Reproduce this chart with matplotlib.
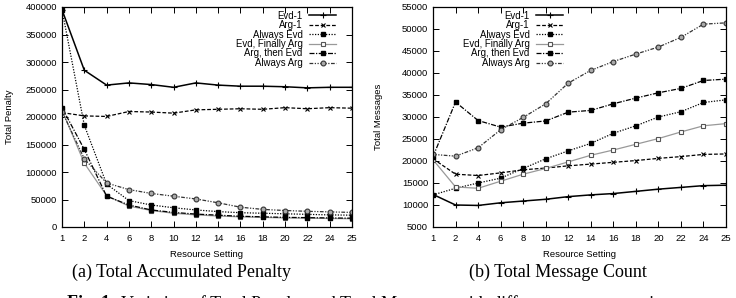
import matplotlib
matplotlib.use("Agg")
import matplotlib.pyplot as plt
import numpy as np

settings = [1, 2, 4, 6, 8, 10, 12, 14, 16, 18, 20, 22, 24, 25]
series_names = ["Evd-1", "Arg-1", "Always Evd", "Evd, Finally Arg",
                "Arg, then Evd", "Always Arg"]

# total accumulated penalty
evd1_pen = [395000, 285000, 258000, 262000, 259000, 254000, 262000, 258000,
            256000, 256000, 255000, 253000, 254000, 254000]
arg1_pen = [208000, 202000, 201000, 210000, 209000, 207000, 213000, 214000,
            215000, 214000, 217000, 215000, 217000, 216000]
always_evd_pen = [395000, 185000, 78000, 48000, 40000, 35000, 31000, 28000,
                  26000, 25000, 24000, 23000, 22000, 21500]
evd_fin_arg_pen = [213000, 116000, 57000, 38000, 30000, 25000, 22000, 20000,
                   18500, 17500, 16500, 16000, 15500, 15000]
arg_then_evd_pen = [217000, 141000, 56000, 40000, 31000, 26500, 23500, 21500,
                    19500, 18500, 17500, 17000, 16500, 16000]
always_arg_pen = [210000, 124000, 80000, 68000, 61000, 56000, 51000, 44000,
                  36000, 32000, 30000, 28500, 27500, 26500]

# total message count
evd1_msg = [12400, 10000, 9900, 10500, 10900, 11300, 11900, 12300, 12600,
            13100, 13600, 14000, 14400, 14500]
arg1_msg = [20500, 17000, 16700, 17300, 18000, 18400, 18900, 19300, 19700,
            20100, 20600, 21000, 21500, 21600]
always_evd_msg = [12300, 13800, 15000, 16100, 18300, 20500, 22300, 24000,
                  26300, 28000, 30000, 31200, 33300, 33900]
evd_fin_arg_msg = [20300, 14100, 13800, 15400, 17000, 18300, 19800, 21300,
                   22500, 23800, 25100, 26600, 28000, 28500]
arg_then_evd_msg = [21000, 33400, 29200, 27700, 28600, 29100, 31100, 31500,
                    33000, 34300, 35500, 36500, 38300, 38600]
always_arg_msg = [21500, 21100, 23000, 27100, 29900, 33000, 37700, 40600,
                  42600, 44300, 45900, 48100, 51100, 51400]

# gnuplot-ish monochrome styles
styles = [
    dict(color="black", ls="-", lw=1.1, marker="+", ms=4, mew=0.8),
    dict(color="black", ls=(0, (3, 1.5)), lw=0.9, marker="x", ms=3, mew=0.8),
    dict(color="black", ls=(0, (1, 1.2)), lw=0.9, marker="s", ms=2.6,
         mfc="black", mec="black"),
    dict(color="#999999", ls="-", lw=0.9, marker="s", ms=3.5,
         mfc="white", mec="#555555", mew=0.8),
    dict(color="black", ls=(0, (4, 1.2, 1, 1.2)), lw=0.9, marker="s", ms=2.6,
         mfc="black", mec="black"),
    dict(color="#333333", ls=(0, (3, 1.2, 1, 1.2, 1, 1.2)), lw=0.9,
         marker="o", ms=3.5, mfc="#aaaaaa", mec="#333333", mew=0.8),
]

plt.rcParams["font.family"] = ["Liberation Sans", "DejaVu Sans"]

fig = plt.figure(figsize=(7.36, 2.98), dpi=100)
ax1 = fig.add_axes([62 / 736, 1 - 227 / 298, 290 / 736, 220 / 298])
ax2 = fig.add_axes([433 / 736, 1 - 227 / 298, 293 / 736, 220 / 298])

pos = np.arange(len(settings))


def draw(ax, data, yticks, ylabel, ylab_x, legend_anchor):
    for vals, name, st in zip(data, series_names, styles):
        ax.plot(pos, vals, label=name, **st)
    ax.set_xlim(pos[0], pos[-1])
    ax.set_xticks(pos)
    ax.set_xticklabels([str(s) for s in settings])
    ax.set_yticks(yticks)
    ax.set_ylim(yticks[0], yticks[-1])
    ax.tick_params(direction="in", length=4, width=0.7, labelsize=6.8,
                   top=True, right=True)
    ax.tick_params(axis="x", pad=5)
    for sp in ax.spines.values():
        sp.set_linewidth(0.9)
    ax.set_xlabel("Resource Setting", fontsize=6.8)
    ax.xaxis.set_label_coords(0.5, -0.105)
    ax.set_ylabel(ylabel, fontsize=6.8)
    ax.yaxis.set_label_coords(ylab_x, 0.5)
    ax.legend(loc="upper right", bbox_to_anchor=legend_anchor,
              markerfirst=False, frameon=False, fontsize=6.9,
              handlelength=2.8, handletextpad=0.7, labelspacing=-0.06,
              borderpad=0, numpoints=1)


draw(ax1, [evd1_pen, arg1_pen, always_evd_pen, evd_fin_arg_pen,
           arg_then_evd_pen, always_arg_pen],
     list(range(0, 400001, 50000)), "Total Penalty", -0.165,
     ((341 - 62) / 290, 1 + 1 / 220))
draw(ax2, [evd1_msg, arg1_msg, always_evd_msg, evd_fin_arg_msg,
           arg_then_evd_msg, always_arg_msg],
     list(range(5000, 55001, 5000)), "Total Messages", -0.17,
     ((568 - 433) / 293, 1 + 1 / 220))

cap = dict(fontsize=13, family=["Liberation Serif", "DejaVu Serif"],
           ha="center", va="center")
fig.text(181 / 736, 1 - 272 / 298, "(a) Total Accumulated Penalty", **cap)
fig.text(558 / 736, 1 - 272 / 298, "(b) Total Message Count", **cap)

# figure caption, cut off by the bottom edge as in the source
fig.canvas.draw()
r = fig.canvas.get_renderer()
t = fig.text(67 / 736, 1 - 295 / 298, "Fig. 1:", fontsize=13,
             family=["Liberation Serif", "DejaVu Serif"], weight="bold",
             va="top", ha="left")
bb = t.get_window_extent(renderer=r)
fig.text((bb.x1 + 5) / 736, 1 - 295 / 298,
         "Variation of Total Penalty and Total Messages with different resource settings",
         fontsize=13, family=["Liberation Serif", "DejaVu Serif"],
         va="top", ha="left")

fig.savefig("out.png", dpi=100)
